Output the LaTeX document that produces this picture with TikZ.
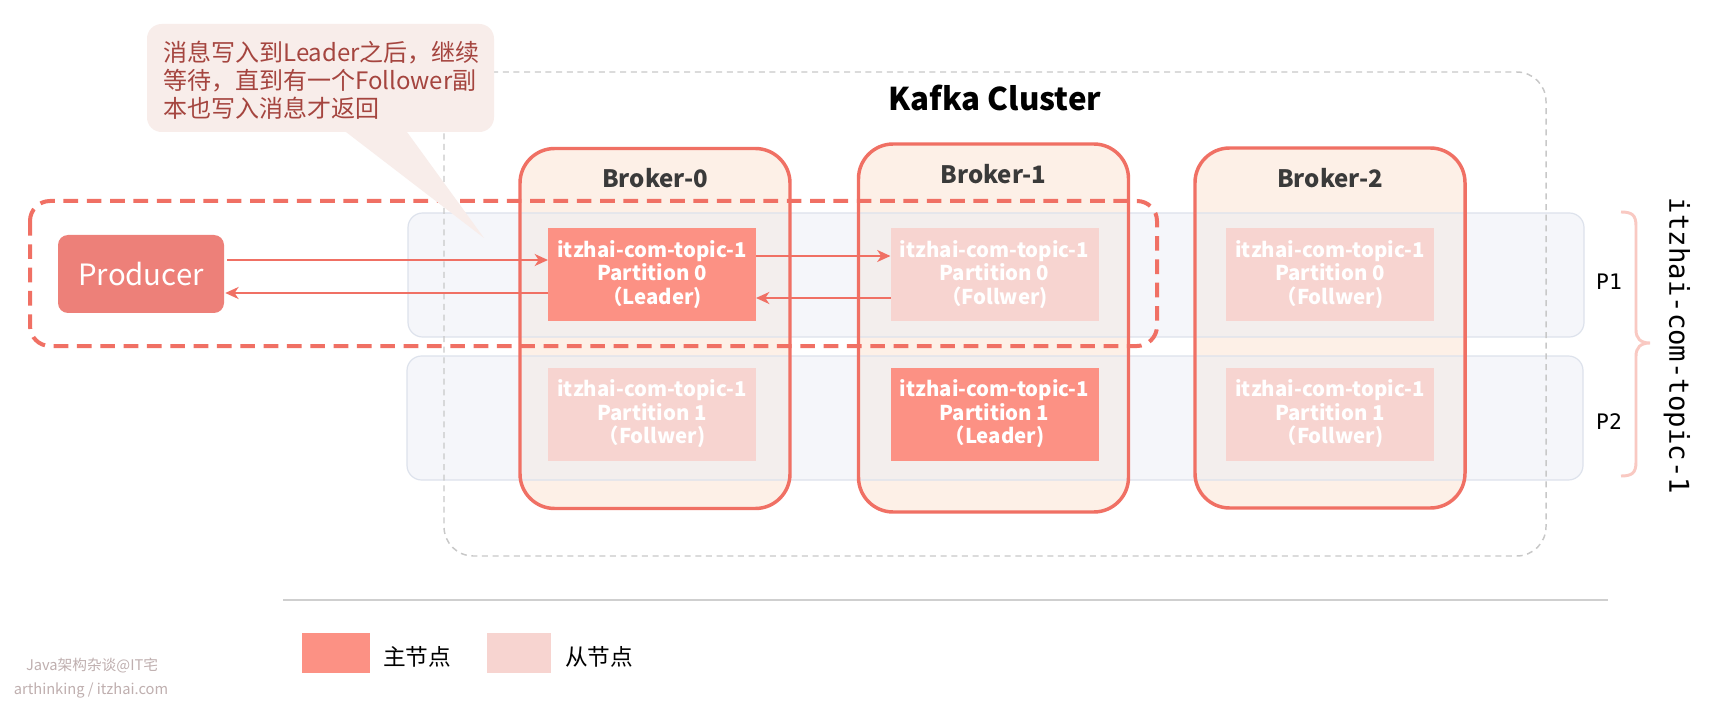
\documentclass[tikz,border=0pt]{standalone}
\usepackage{fontspec}
\setmainfont{Noto Sans CJK SC}
\newfontfamily\monofont{DejaVu Sans Mono}
\usetikzlibrary{calc,arrows.meta}
\definecolor{redline}{HTML}{F07064}
\definecolor{brokerfill}{HTML}{FDF0E7}
\definecolor{bandfill}{HTML}{E9EDF5}
\definecolor{bandline}{HTML}{DDE2EC}
\definecolor{leaderfill}{HTML}{FC9184}
\definecolor{followfill}{HTML}{F7D4D0}
\definecolor{prodfill}{HTML}{ED8079}
\definecolor{bubblefill}{HTML}{F8EDEA}
\definecolor{bubbletext}{HTML}{A5453F}
\definecolor{clusterline}{HTML}{C8C8C8}
\definecolor{bracecol}{HTML}{F9C9C2}
\definecolor{legendline}{HTML}{CFCFCF}
\definecolor{wmark}{HTML}{BFAFAF}
\definecolor{brokertext}{HTML}{3A3A3A}
\begin{document}
\begin{tikzpicture}[x=0.75pt,y=-0.75pt,
  brokerbg/.style={draw=none,fill=brokerfill,rounded corners=26pt,outer sep=0pt,inner sep=0pt,minimum width=202.5pt,minimum height=270pt},
  brokerborder/.style={draw=redline,line width=2.6pt,rounded corners=26pt},
  brokerlabel/.style={font=\bfseries\fontsize{18}{21}\selectfont,text=brokertext},
  band/.style={fill=bandfill,fill opacity=0.45,draw=bandline,line width=0.9pt,rounded corners=11pt},
  partbox/.style={minimum width=156pt,minimum height=69.75pt,inner sep=0pt,outer sep=0pt,align=center,text=white,font=\bfseries\fontsize{15.3}{17.6}\selectfont},
  leaderbox/.style={partbox,fill=leaderfill},
  followbox/.style={partbox,fill=followfill},
  arr/.style={draw=redline,line width=1.5pt,-{Stealth[length=10pt,width=9pt,inset=3pt]}},
  reddash/.style={draw=redline,line width=3pt,dash pattern=on 11pt off 6.5pt,rounded corners=15pt},
  clusterdash/.style={draw=clusterline,line width=1.1pt,dash pattern=on 4.5pt off 3.5pt,rounded corners=22pt},
  legendbox/.style={minimum width=51pt,minimum height=30pt,inner sep=0pt},
  legendtext/.style={anchor=west,inner sep=0pt,font=\fontsize{17}{20}\selectfont,text=black},
  plabel/.style={font=\monofont\fontsize{16}{19}\selectfont,text=black},
]
% canvas
\fill[white] (0,0) rectangle (1710,702);
\useasboundingbox (0,0) rectangle (1710,702);

% brokers (fill)
\node[brokerbg] (b0) at (655,328.5) {};
\node[brokerbg,minimum height=276pt] (b1) at (993.5,328) {};
\node[brokerbg] (b2) at (1330,328) {};

% partition bands
\draw[band] (408,213) rectangle (1584,337);
\draw[band] (407,356) rectangle (1583,480);

% cluster frame
\draw[clusterdash] (444,72) rectangle (1546,556);
\node[font=\bfseries\fontsize{23.5}{28}\selectfont,text=black] (title) at (995,98) {Kafka Cluster};

% broker borders
\draw[brokerborder] (b0.north west) rectangle (b0.south east);
\draw[brokerborder] (b1.north west) rectangle (b1.south east);
\draw[brokerborder] (b2.north west) rectangle (b2.south east);
\node[brokerlabel] (b0l) at (655,178) {Broker-0};
\node[brokerlabel] (b1l) at (993.5,174) {Broker-1};
\node[brokerlabel] (b2l) at (1330,178) {Broker-2};

% partition replicas
\node[leaderbox] (l0) at (652,274.5) {itzhai-com-topic-1\\Partition 0\\（Leader)};
\node[followbox] (f10) at (994.5,274.5) {itzhai-com-topic-1\\Partition 0\\（Follwer)};
\node[followbox] (f20) at (1330,274.5) {itzhai-com-topic-1\\Partition 0\\（Follwer)};
\node[followbox] (f01) at (652,414) {itzhai-com-topic-1\\Partition 1\\（Follwer)};
\node[leaderbox] (l1) at (994.5,414) {itzhai-com-topic-1\\Partition 1\\（Leader)};
\node[followbox] (f21) at (1330,414) {itzhai-com-topic-1\\Partition 1\\（Follwer)};

% producer
\node[fill=prodfill,rounded corners=7.5pt,minimum width=124.5pt,minimum height=58.5pt,inner sep=0pt,text=white,font=\fontsize{22}{25}\selectfont] (prod) at (141,274) {Producer};

% arrows
\draw[arr] ($(prod.east)+(3,-14)$) -- ($(l0.west)+(0,-14.5)$);
\draw[arr] ($(l0.west)+(0,18.5)$) -- ($(prod.east)+(1,19)$);
\draw[arr] ($(l0.east)+(0,-18.5)$) -- ($(f10.west)+(0,-18.5)$);
\draw[arr] ($(f10.west)+(0,23.5)$) -- ($(l0.east)+(0,23.5)$);

% red dashed frame
\draw[reddash] (30,201) rectangle (1157,346);

% callout bubble
\node[fill=bubblefill,rounded corners=11pt,minimum width=260.25pt,minimum height=81pt,inner sep=0pt] (bub) at (320.5,78) {};
\coordinate (tip) at (484,238);
\fill[bubblefill] ($(bub.south west)+(197,-2)$) -- (tip) -- ($(bub.south west)+(259,-2)$) -- cycle;
\node[anchor=west,align=left,inner sep=0pt,text=bubbletext,font=\fontsize{18}{21}\selectfont] (btxt) at (163,80) {消息写入到Leader之后，继续\\等待，直到有一个Follower副\\本也写入消息才返回};

% partition labels and brace
\node[plabel] (p1) at (1609,282) {P1};
\node[plabel] (p2) at (1609,422) {P2};
\coordinate (brt) at (1621,212);
\coordinate (brm) at (1650,343);
\coordinate (brb) at (1621,476);
\draw[draw=bracecol,line width=2.2pt] (brt) .. controls (1632,212) and (1636,215) .. (1636,226) -- (1636,330) .. controls (1636,338) and (1640,343) .. (brm) .. controls (1640,343) and (1636,348) .. (1636,356) -- (1636,462) .. controls (1636,473) and (1632,476) .. (brb);
\node[rotate=-90,font=\monofont\fontsize{20.5}{24}\selectfont,text=black] (topic) at (1677,346) {itzhai-com-topic-1};

% legend
\coordinate (lgA) at (283,600);
\coordinate (lgB) at (1608,600);
\draw[legendline,line width=1.5pt] (lgA) -- (lgB);
\node[legendbox,fill=leaderfill] (lg1) at (336,653) {};
\node[legendtext] (lg1t) at (383,657) {主节点};
\node[legendbox,minimum width=48pt,fill=followfill] (lg2) at (519,653) {};
\node[legendtext] (lg2t) at (565,657) {从节点};

% watermark
\node[text=wmark,font=\fontsize{11}{13}\selectfont] (wm1) at (92,666) {Java架构杂谈@IT宅};
\node[text=wmark,font=\fontsize{11}{13}\selectfont] (wm2) at (91,690) {arthinking / itzhai.com};
\end{tikzpicture}
\end{document}
